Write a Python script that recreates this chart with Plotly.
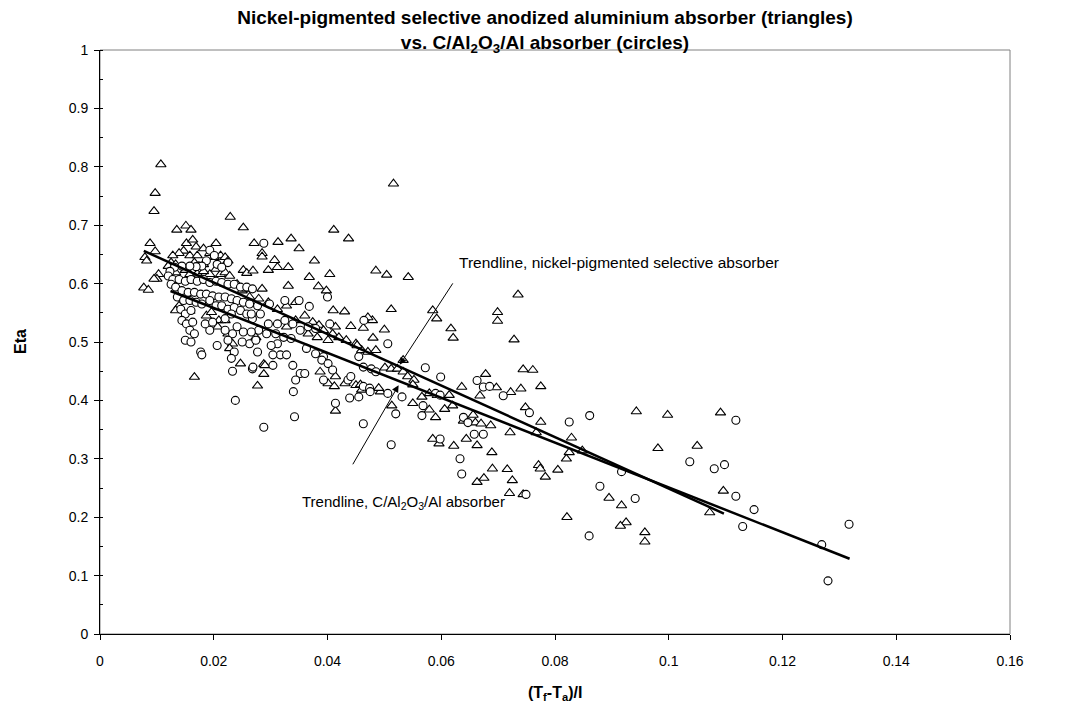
import plotly.graph_objects as go

# ---- data (x = (Tf-Ta)/I, y = Eta) ----
tri_pts = [
    (0.0107,0.804),(0.0097,0.755),(0.0095,0.724),(0.0229,0.714),(0.0252,0.696),(0.0135,0.692),(0.0151,0.699),
    (0.0160,0.692),(0.0088,0.669),(0.0097,0.655),(0.0079,0.645),(0.0082,0.639),(0.0103,0.616),(0.0100,0.608),
    (0.0095,0.608),(0.0077,0.593),(0.0085,0.589),(0.0204,0.669),(0.0271,0.669),(0.0285,0.652),(0.0285,0.646),
    (0.0313,0.671),(0.0336,0.677),(0.0350,0.660),(0.0307,0.640),(0.0312,0.628),(0.0296,0.623),(0.0331,0.628),
    (0.0252,0.623),(0.0258,0.618),(0.0269,0.622),(0.0285,0.591),(0.0331,0.596),(0.0166,0.440),(0.0247,0.463),
    (0.0288,0.462),(0.0288,0.445),(0.0277,0.425),
    (0.0152,0.669),(0.0163,0.675),(0.0169,0.663),(0.0147,0.656),(0.0139,0.652),(0.0128,0.648),(0.0158,0.648),
    (0.0171,0.648),(0.0182,0.660),(0.0193,0.652),(0.0201,0.645),(0.0212,0.648),(0.0220,0.645),(0.0225,0.639),
    (0.0125,0.636),(0.0120,0.630),(0.0133,0.633),(0.0166,0.636),(0.0174,0.630),(0.0182,0.633),(0.0193,0.616),
    (0.0204,0.625),(0.0212,0.616),(0.0220,0.619),(0.0228,0.613),(0.0133,0.619),(0.0150,0.623),(0.0158,0.616),
    (0.0171,0.617),(0.0182,0.621),(0.0241,0.599),(0.0250,0.588),(0.0258,0.591),(0.0139,0.562),(0.0133,0.554),
    (0.0187,0.545),(0.0196,0.551),(0.0209,0.537),(0.0220,0.537),(0.0207,0.526),(0.0225,0.514),(0.0233,0.497),
    (0.0228,0.489),(0.0158,0.553),
    (0.0411,0.692),(0.0437,0.677),(0.0377,0.639),(0.0368,0.611),(0.0404,0.616),(0.0384,0.595),(0.0398,0.588),
    (0.0410,0.554),(0.0430,0.552),(0.0441,0.527),(0.0463,0.524),(0.0414,0.526),
    (0.0263,0.577),(0.0279,0.574),(0.0296,0.568),(0.0312,0.556),(0.0328,0.562),(0.0344,0.568),(0.0360,0.545),
    (0.0374,0.534),(0.0385,0.529),(0.0393,0.520),(0.0409,0.514),(0.0420,0.508),(0.0433,0.503),(0.0450,0.497),
    (0.0460,0.486),(0.0366,0.514),(0.0382,0.508),(0.0401,0.503),(0.0344,0.537),(0.0328,0.526),(0.0274,0.508),
    (0.0290,0.460),(0.0387,0.449),(0.0414,0.441),(0.0401,0.429),(0.0412,0.424),(0.0431,0.429),(0.0450,0.426),
    (0.0460,0.418),(0.0414,0.382),
    (0.0516,0.771),(0.0485,0.622),(0.0504,0.615),(0.0542,0.611),(0.0512,0.556),(0.0585,0.554),(0.0592,0.540),
    (0.0617,0.523),(0.0621,0.507),(0.0479,0.537),(0.0471,0.542),(0.0500,0.521),(0.0480,0.507),(0.0452,0.494),
    (0.0471,0.483),(0.0485,0.486),(0.0533,0.469),(0.0636,0.423),(0.0458,0.427),(0.0493,0.415),(0.0490,0.421),
    (0.0501,0.456),(0.0512,0.454),(0.0523,0.454),(0.0533,0.449),(0.0541,0.441),(0.0552,0.435),(0.0550,0.427),
    (0.0566,0.406),(0.0579,0.412),(0.0593,0.409),(0.0614,0.409),(0.0550,0.395),(0.0513,0.391),(0.0579,0.384),
    (0.0590,0.371),(0.0606,0.385),(0.0620,0.391),(0.0639,0.365),(0.0656,0.375),(0.0660,0.362),(0.0670,0.360),
    (0.0644,0.334),(0.0663,0.323),(0.0585,0.334),(0.0596,0.326),(0.0622,0.322),(0.0663,0.260),(0.0675,0.267),
    (0.0689,0.311),(0.0690,0.283),
    (0.0699,0.536),(0.0728,0.504),(0.0744,0.453),(0.0761,0.452),(0.0678,0.445),(0.0697,0.422),(0.0722,0.414),
    (0.0740,0.420),(0.0775,0.424),(0.0668,0.408),(0.0748,0.388),(0.0775,0.363),(0.0687,0.357),(0.0721,0.345),
    (0.0767,0.345),(0.0829,0.336),(0.0848,0.314),(0.0825,0.311),(0.0820,0.300),(0.0943,0.381),(0.0981,0.318),
    (0.0716,0.282),(0.0771,0.289),(0.0774,0.283),(0.0725,0.263),(0.0783,0.269),(0.0805,0.281),(0.0720,0.241),
    (0.0744,0.239),(0.0895,0.233),(0.0917,0.220),(0.0821,0.200),(0.0925,0.191),(0.0735,0.581),(0.0699,0.551),
    (0.0998,0.375),
    (0.1091,0.379),(0.1050,0.322),(0.1096,0.245),(0.1072,0.208),(0.0915,0.185),(0.0958,0.174),(0.0958,0.158),
]

circ_pts = [
    (0.0193,0.657),(0.0201,0.648),(0.0206,0.633),(0.0225,0.636),(0.0214,0.628),(0.0187,0.639),(0.0179,0.630),
    (0.0169,0.629),(0.0158,0.630),(0.0144,0.630),(0.0131,0.628),(0.0123,0.621),(0.0120,0.613),(0.0128,0.607),
    (0.0139,0.607),(0.0150,0.604),(0.0160,0.607),(0.0171,0.604),(0.0182,0.607),(0.0193,0.602),(0.0204,0.604),
    (0.0214,0.602),(0.0225,0.599),(0.0236,0.599),(0.0247,0.594),(0.0258,0.594),(0.0268,0.591),(0.0125,0.599),
    (0.0133,0.594),(0.0144,0.588),(0.0155,0.585),(0.0166,0.585),(0.0177,0.582),(0.0187,0.582),(0.0198,0.579),
    (0.0209,0.577),(0.0220,0.577),(0.0231,0.574),(0.0241,0.571),(0.0252,0.568),(0.0263,0.565),(0.0136,0.577),
    (0.0147,0.571),(0.0158,0.571),(0.0169,0.568),(0.0179,0.565),(0.0193,0.571),(0.0204,0.562),(0.0214,0.562),
    (0.0225,0.556),(0.0236,0.559),(0.0247,0.554),(0.0258,0.548),(0.0268,0.540),(0.0142,0.556),(0.0150,0.548),
    (0.0160,0.554),(0.0144,0.537),(0.0152,0.531),(0.0163,0.534),(0.0158,0.520),(0.0166,0.514),(0.0150,0.503),
    (0.0160,0.500),(0.0177,0.483),(0.0206,0.494),(0.0193,0.520),(0.0185,0.531),(0.0198,0.534),(0.0220,0.540),
    (0.0231,0.548),(0.0241,0.526),(0.0233,0.514),(0.0225,0.503),(0.0236,0.483),(0.0231,0.472),(0.0233,0.450),
    (0.0268,0.454),(0.0252,0.517),(0.0263,0.497),(0.0250,0.500),(0.0220,0.520),
    (0.0288,0.669),(0.0179,0.478),(0.0238,0.400),
    (0.0400,0.577),(0.0368,0.561),(0.0350,0.571),(0.0325,0.571),(0.0298,0.565),(0.0277,0.562),(0.0464,0.537),
    (0.0404,0.531),(0.0266,0.548),(0.0282,0.548),(0.0296,0.531),(0.0312,0.531),(0.0325,0.537),(0.0339,0.531),
    (0.0352,0.520),(0.0366,0.526),(0.0379,0.523),(0.0279,0.520),(0.0266,0.517),(0.0293,0.514),(0.0309,0.514),
    (0.0323,0.508),(0.0336,0.506),(0.0312,0.497),(0.0301,0.494),(0.0317,0.478),(0.0328,0.478),(0.0304,0.478),
    (0.0274,0.503),(0.0277,0.483),(0.0269,0.457),(0.0304,0.460),(0.0339,0.460),(0.0352,0.446),(0.0360,0.446),
    (0.0344,0.435),(0.0363,0.489),(0.0379,0.480),(0.0393,0.475),(0.0393,0.435),(0.0390,0.469),(0.0401,0.463),
    (0.0409,0.452),(0.0436,0.435),(0.0441,0.441),(0.0439,0.404),(0.0455,0.406),(0.0463,0.424),(0.0414,0.395),
    (0.0340,0.415),(0.0342,0.372),(0.0288,0.354),
    (0.0506,0.497),(0.0572,0.456),(0.0599,0.440),(0.0455,0.475),(0.0463,0.457),(0.0477,0.454),(0.0485,0.449),
    (0.0474,0.421),(0.0506,0.412),(0.0531,0.406),(0.0520,0.377),(0.0568,0.391),(0.0566,0.374),(0.0590,0.412),
    (0.0598,0.409),(0.0639,0.371),(0.0647,0.362),(0.0658,0.342),(0.0674,0.342),(0.0463,0.360),(0.0512,0.324),
    (0.0598,0.334),(0.0633,0.300),(0.0636,0.274),(0.0475,0.415),
    (0.0663,0.434),(0.0674,0.423),(0.0685,0.424),(0.0709,0.408),(0.0755,0.379),(0.0825,0.363),(0.0861,0.374),
    (0.0917,0.278),(0.0879,0.253),(0.0941,0.232),(0.0749,0.239),(0.0860,0.168),
    (0.1118,0.366),(0.1037,0.295),(0.1080,0.283),(0.1098,0.290),(0.1118,0.236),(0.1150,0.213),(0.1130,0.184),
    (0.1317,0.188),(0.1269,0.153),(0.1280,0.091),
]

tri_x = [p[0] for p in tri_pts]
tri_y = [p[1] for p in tri_pts]
circ_x = [p[0] for p in circ_pts]
circ_y = [p[1] for p in circ_pts]

# linear trendlines: (slope, intercept) and x extent
tri_fit = (-4.41, 0.690)
tri_fit_x = [0.0077, 0.1097]
circ_fit = (-3.84, 0.635)
circ_fit_x = [0.0124, 0.1318]

x_ticks = [0, 0.02, 0.04, 0.06, 0.08, 0.1, 0.12, 0.14, 0.16]
y_ticks = [0, 0.1, 0.2, 0.3, 0.4, 0.5, 0.6, 0.7, 0.8, 0.9, 1]

FONT = "Liberation Sans, Arial, sans-serif"
L, R, T, B = 100, 80, 50, 79

fig = go.Figure()
fig.add_trace(go.Scatter(
    x=tri_x, y=tri_y, mode="markers", name="triangles",
    marker=dict(symbol="triangle-up", size=9, color="white",
                line=dict(color="black", width=1.1))))
fig.add_trace(go.Scatter(
    x=circ_x, y=circ_y, mode="markers", name="circles",
    marker=dict(symbol="circle", size=8, color="white",
                line=dict(color="black", width=1.1))))
fig.add_trace(go.Scatter(
    x=tri_fit_x, y=[tri_fit[0] * v + tri_fit[1] for v in tri_fit_x],
    mode="lines", line=dict(color="black", width=2.5), name="trend tri"))
fig.add_trace(go.Scatter(
    x=circ_fit_x, y=[circ_fit[0] * v + circ_fit[1] for v in circ_fit_x],
    mode="lines", line=dict(color="black", width=2.5), name="trend circ"))

annotations = [
    dict(x=0.0527, y=0.461, ax=0.0622, ay=0.603, xref="x", yref="y", axref="x", ayref="y",
         text="", showarrow=True, arrowhead=2, arrowsize=1.4, arrowwidth=1, arrowcolor="black"),
    dict(x=0.0525, y=0.426, ax=0.0443, ay=0.288, xref="x", yref="y", axref="x", ayref="y",
         text="", showarrow=True, arrowhead=2, arrowsize=1.4, arrowwidth=1, arrowcolor="black"),
    dict(x=0.0627, y=0.636, xref="x", yref="y", xanchor="left", yanchor="middle", showarrow=False,
         text="Trendline, nickel-pigmented selective absorber",
         font=dict(family=FONT, size=15.5, color="black")),
    dict(x=0.0352, y=0.226, xref="x", yref="y", xanchor="left", yanchor="middle", showarrow=False,
         text="Trendline, C/Al<sub>2</sub>O<sub>3</sub>/Al absorber",
         font=dict(family=FONT, size=15, color="black")),
    # axis titles
    dict(x=0.5, y=0, xref="paper", yref="paper", yshift=-59, xanchor="center", yanchor="middle",
         showarrow=False, text="<b>(T<sub>f</sub>-T<sub>a</sub>)/I</b>",
         font=dict(family=FONT, size=16, color="black")),
    dict(x=0, y=0.5, xref="paper", yref="paper", xshift=-80, xanchor="center", yanchor="middle",
         showarrow=False, text="<b>Eta</b>", textangle=-90,
         font=dict(family=FONT, size=16, color="black")),
]

fig.update_layout(
    width=1090, height=713,
    margin=dict(l=L, r=R, t=T, b=B),
    paper_bgcolor="white", plot_bgcolor="white",
    showlegend=False,
    font=dict(family=FONT, size=14, color="black"),
    title=dict(
        text="<b>Nickel-pigmented selective anodized aluminium absorber (triangles)<br>"
             "vs. C/Al<sub>2</sub>O<sub>3</sub>/Al absorber (circles)</b>",
        x=0.5, xref="container", xanchor="center",
        y=1 - 24 / 713, yref="container", yanchor="top",
        font=dict(family=FONT, size=19, color="black")),
    xaxis=dict(range=[0, 0.16], tickvals=x_ticks, ticktext=[f"{v:g}" for v in x_ticks],
               ticks="outside", ticklen=5, tickcolor="black", ticklabelstandoff=9,
               showline=True, linecolor="black", linewidth=1, showgrid=False, zeroline=False,
               tickfont=dict(family=FONT, size=14)),
    yaxis=dict(range=[0, 1], tickvals=y_ticks, ticktext=[f"{v:g}" for v in y_ticks],
               ticks="outside", ticklen=5, tickcolor="black", ticklabelstandoff=3,
               minor=dict(dtick=0.05, ticks="inside", ticklen=3, tickcolor="black"),
               showline=True, linecolor="black", linewidth=1, showgrid=False, zeroline=False,
               tickfont=dict(family=FONT, size=14)),
    annotations=annotations,
    shapes=[dict(type="rect", xref="paper", yref="paper", x0=0, y0=0, x1=1, y1=1,
                 line=dict(color="#808080", width=1), layer="below")],
)

# remove the default page margin so the figure sits at the window's top-left corner
fig.write_html("out.html", config={"displayModeBar": False},
               post_script="document.body.style.margin='0';")
